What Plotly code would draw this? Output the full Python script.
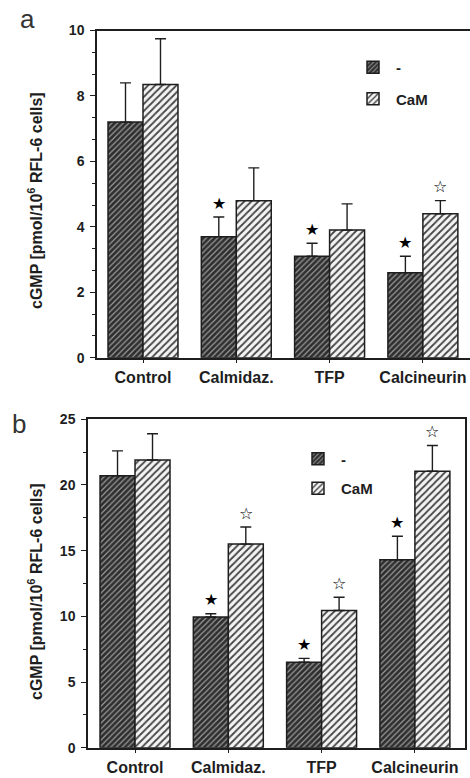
import plotly.graph_objects as go

# ---------------- data ----------------
categories = ["Control", "Calmidaz.", "TFP", "Calcineurin"]
series_names = ["-", "CaM"]

# panel a
a_minus = [7.2, 3.7, 3.1, 2.6]
a_minus_err = [1.2, 0.6, 0.4, 0.5]
a_cam = [8.35, 4.8, 3.9, 4.4]
a_cam_err = [1.4, 1.0, 0.8, 0.4]
a_minus_sig = ["", "filled", "filled", "filled"]
a_cam_sig = ["", "", "", "open"]

# panel b
b_minus = [20.7, 9.95, 6.5, 14.3]
b_minus_err = [1.9, 0.25, 0.3, 1.8]
b_cam = [21.9, 15.5, 10.45, 21.05]
b_cam_err = [2.0, 1.3, 1.0, 1.95]
b_minus_sig = ["", "filled", "filled", "filled"]
b_cam_sig = ["", "open", "open", "open"]

a_yticks = [0, 2, 4, 6, 8, 10]
b_yticks = [0, 5, 10, 15, 20, 25]

# ---------------- layout helpers ----------------
W, H = 470, 778
BW = 0.375
FONT = "Liberation Sans"
INK = "#1e1e1e"


def px_y(p):
    return 1 - p / H


def px_x(p):
    return p / W


xpos = list(range(len(categories)))

fig = go.Figure()


def add_panel(vals_m, err_m, vals_c, err_c, xa, ya, legend_name):
    common = dict(
        width=BW,
        marker_line=dict(color=INK, width=1.5),
        xaxis=xa,
        yaxis=ya,
        legend=legend_name,
    )
    fig.add_trace(go.Bar(
        x=xpos, y=vals_m, name=series_names[0], offset=-BW,
        marker=dict(color="#3a3a3a",
                    pattern=dict(shape="/", size=4, solidity=0.3,
                                 fgcolor="#9a9a9a", bgcolor="#2e2e2e",
                                 fillmode="replace")),
        error_y=dict(type="data", symmetric=False, array=err_m,
                     arrayminus=[0] * len(err_m), color=INK,
                     thickness=1.4, width=5.5),
        legendgroup=legend_name + "m",
        **common,
    ))
    fig.add_trace(go.Bar(
        x=xpos, y=vals_c, name=series_names[1], offset=0,
        marker=dict(color="white",
                    pattern=dict(shape="/", size=5, solidity=0.35,
                                 fgcolor="#444444", bgcolor="#f4f4f4",
                                 fillmode="replace")),
        error_y=dict(type="data", symmetric=False, array=err_c,
                     arrayminus=[0] * len(err_c), color=INK,
                     thickness=1.4, width=5.5),
        legendgroup=legend_name + "c",
        **common,
    ))


add_panel(a_minus, a_minus_err, a_cam, a_cam_err, "x", "y", "legend")
add_panel(b_minus, b_minus_err, b_cam, b_cam_err, "x2", "y2", "legend2")

annotations = []


def add_stars(vals, errs, sigs, dx, xref, yref):
    for i, (v, e, s) in enumerate(zip(vals, errs, sigs)):
        if not s:
            continue
        annotations.append(dict(
            x=i + dx, y=v + e, xref=xref, yref=yref,
            text="★" if s == "filled" else "☆",
            showarrow=False, yshift=14, xanchor="center", yanchor="middle",
            font=dict(family="DejaVu Sans", size=16, color="#000"),
        ))


add_stars(a_minus, a_minus_err, a_minus_sig, -BW / 2, "x", "y")
add_stars(a_cam, a_cam_err, a_cam_sig, BW / 2, "x", "y")
add_stars(b_minus, b_minus_err, b_minus_sig, -BW / 2, "x2", "y2")
add_stars(b_cam, b_cam_err, b_cam_sig, BW / 2, "x2", "y2")

ytitle = "cGMP [pmol/10<sup>6</sup> RFL-6 cells]"
annotations += [
    dict(text=ytitle, textangle=-90, x=px_x(35), y=px_y(201),
         xref="paper", yref="paper", showarrow=False,
         xanchor="center", yanchor="middle",
         font=dict(family=FONT, size=16, color=INK, weight="bold")),
    dict(text=ytitle, textangle=-90, x=px_x(35), y=px_y(592),
         xref="paper", yref="paper", showarrow=False,
         xanchor="center", yanchor="middle",
         font=dict(family=FONT, size=16, color=INK, weight="bold")),
    dict(text="a", x=px_x(27), y=px_y(19), xref="paper", yref="paper",
         showarrow=False, xanchor="center", yanchor="middle",
         font=dict(family=FONT, size=26, color="#333")),
    dict(text="b", x=px_x(19), y=px_y(424), xref="paper", yref="paper",
         showarrow=False, xanchor="center", yanchor="middle",
         font=dict(family=FONT, size=26, color="#333")),
]

axis_common = dict(
    showline=True, mirror=True, linecolor=INK, linewidth=1.5,
    showgrid=False, zeroline=False, automargin=False,
    ticks="outside", tickcolor=INK, tickwidth=1.3,
)
ytickfont = dict(family=FONT, size=14, color=INK, weight="bold")
xtickfont = dict(family=FONT, size=16, color=INK, weight="bold")

fig.update_layout(
    template="none",
    width=W, height=H,
    margin=dict(l=0, r=0, t=0, b=0, autoexpand=False),
    paper_bgcolor="white", plot_bgcolor="white",
    barmode="overlay",
    showlegend=True,
    xaxis=dict(domain=[px_x(97), px_x(470)], range=[-0.493, 3.505],
               anchor="y", tickvals=xpos, ticktext=categories, ticklen=4,
               tickfont=xtickfont, **axis_common),
    yaxis=dict(domain=[px_y(357.7), px_y(30.5)], range=[0, 10],
               anchor="x", tickvals=a_yticks, ticklen=5,
               minor=dict(dtick=2 / 3, tick0=0, ticks="outside", ticklen=3,
                          tickcolor=INK, tickwidth=1.2, showgrid=False),
               ticklabelstandoff=3, tickfont=ytickfont,
               **axis_common),
    xaxis2=dict(domain=[px_x(88), px_x(465)], range=[-0.504, 3.537],
                anchor="y2", tickvals=xpos, ticktext=categories, ticklen=4,
                tickfont=xtickfont, **axis_common),
    yaxis2=dict(domain=[px_y(747.7), px_y(419.3)], range=[0, 25],
                anchor="x2", tickvals=b_yticks, ticklen=5,
                minor=dict(dtick=2.5, tick0=0, ticks="outside", ticklen=3,
                           tickcolor=INK, tickwidth=1.2, showgrid=False),
                ticklabelstandoff=3, tickfont=ytickfont,
                **axis_common),
    legend=dict(x=px_x(350), y=px_y(51), xanchor="left", yanchor="top",
                bgcolor="rgba(0,0,0,0)", traceorder="grouped",
                tracegroupgap=9, itemwidth=36,
                font=dict(family=FONT, size=15, color=INK, weight="bold")),
    legend2=dict(x=px_x(295), y=px_y(442.5), xanchor="left", yanchor="top",
                 bgcolor="rgba(0,0,0,0)", traceorder="grouped",
                 tracegroupgap=7, itemwidth=36,
                 font=dict(family=FONT, size=15, color=INK, weight="bold")),
    annotations=annotations,
)

fig.write_html("out.html")
